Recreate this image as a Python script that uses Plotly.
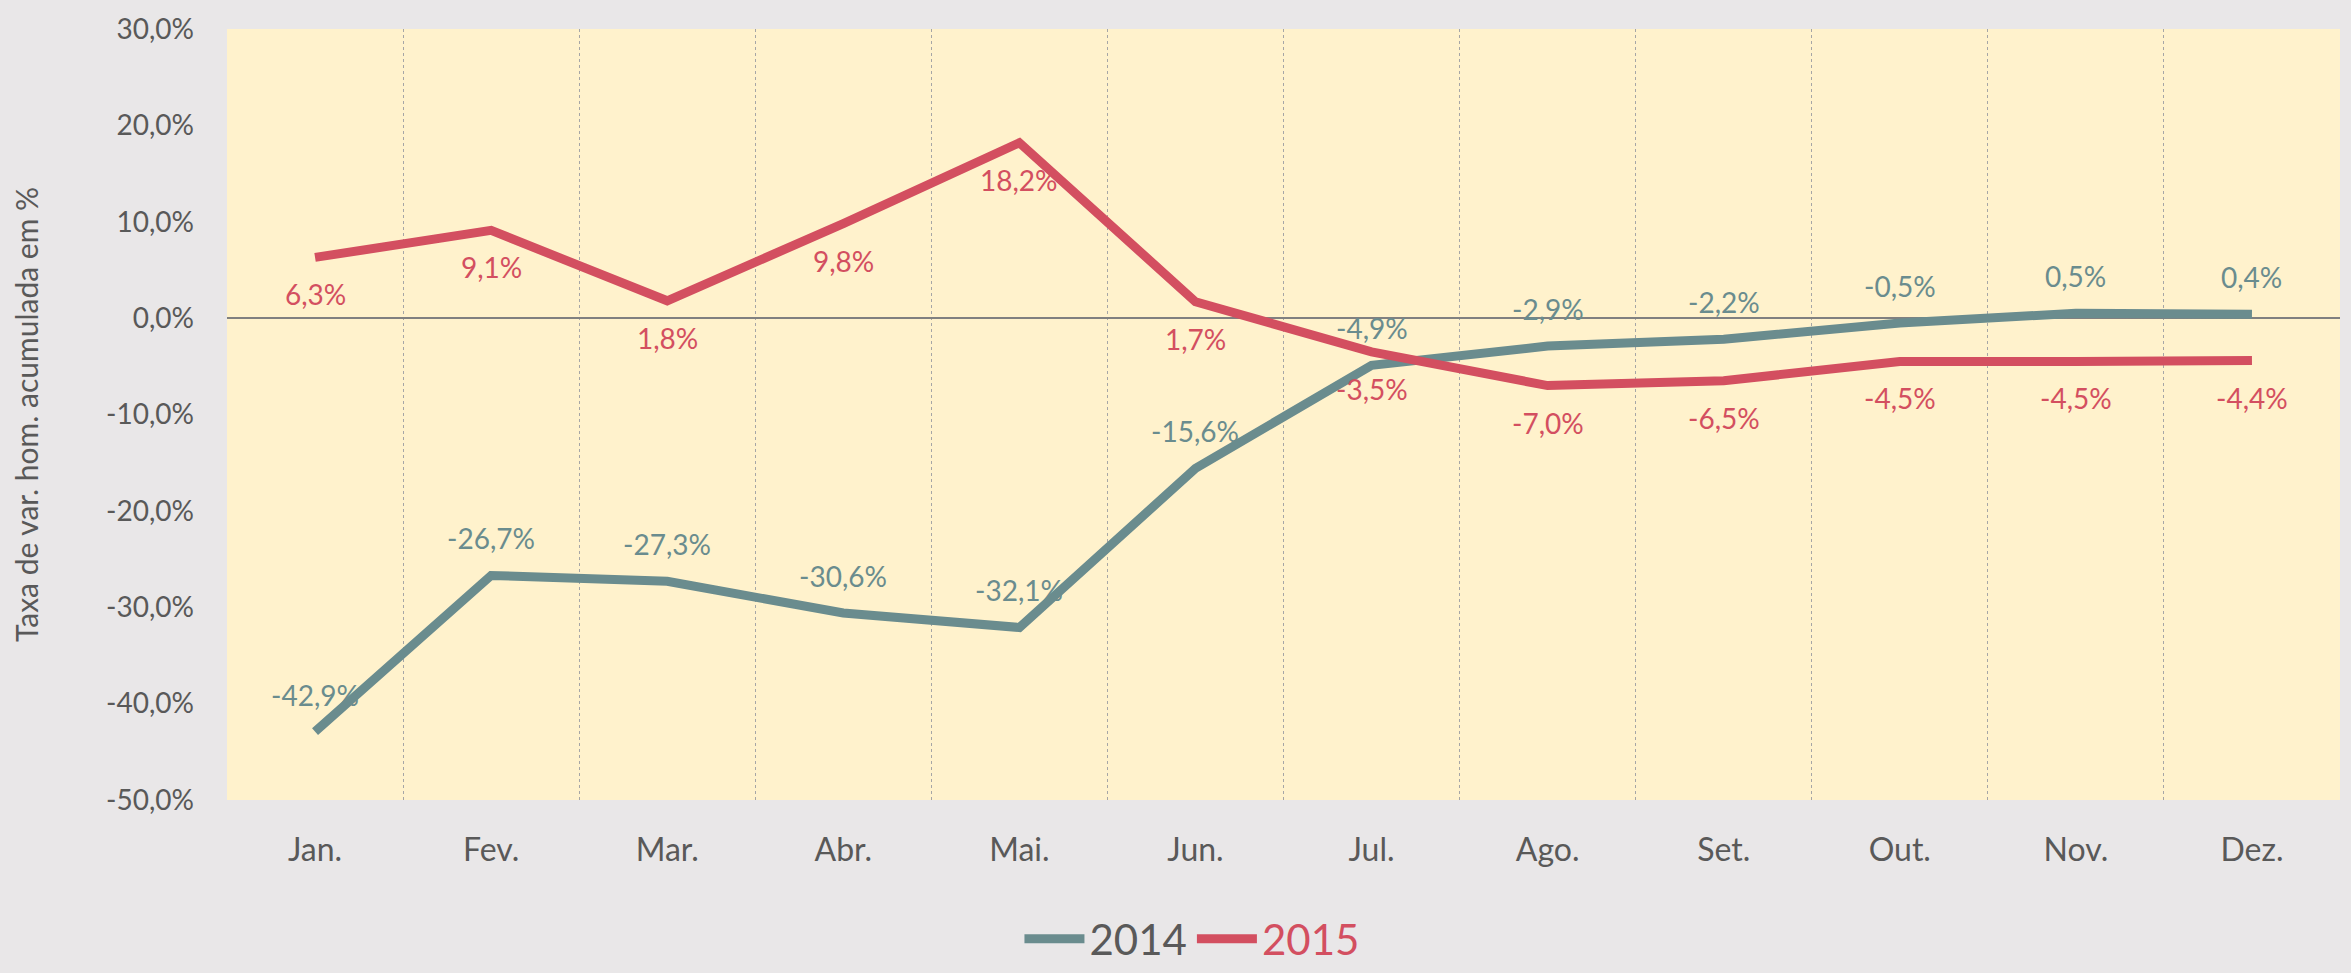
import plotly.graph_objects as go

# dados (taxa de variação homóloga acumulada, %)
meses = ["Jan.", "Fev.", "Mar.", "Abr.", "Mai.", "Jun.", "Jul.", "Ago.", "Set.", "Out.", "Nov.", "Dez."]
v2014 = [-42.9, -26.7, -27.3, -30.6, -32.1, -15.6, -4.9, -2.9, -2.2, -0.5, 0.5, 0.4]
v2015 = [6.3, 9.1, 1.8, 9.8, 18.2, 1.7, -3.5, -7.0, -6.5, -4.5, -4.5, -4.4]
yticks = [30, 20, 10, 0, -10, -20, -30, -40, -50]

cor14 = "#6A8C8E"
cor15 = "#D34F60"
fonte = "Lato, Open Sans, sans-serif"


def pct(v):
    # formato português com hífen normal
    return ("%.1f%%" % v).replace(".", ",")


fig = go.Figure()
fig.add_trace(go.Scatter(x=meses, y=v2014, mode="lines", name="2014",
                         line=dict(color=cor14, width=9)))
fig.add_trace(go.Scatter(x=meses, y=v2015, mode="lines",
                         name="<span style='color:%s'>2015</span>" % cor15,
                         line=dict(color=cor15, width=9)))

# rótulos de dados: 2014 acima, 2015 abaixo
anns = []
for m, a, b in zip(meses, v2014, v2015):
    anns.append(dict(x=m, y=a, text=pct(a), showarrow=False,
                     yshift=37, font=dict(color=cor14, size=28, family=fonte)))
    anns.append(dict(x=m, y=b, text=pct(b), showarrow=False,
                     yshift=-37, font=dict(color=cor15, size=28, family=fonte)))

fig.update_layout(
    width=2351, height=973,
    margin=dict(l=227, r=11, t=19, b=173),
    paper_bgcolor="#E9E7E8",
    plot_bgcolor="#FFF2CC",
    font=dict(family=fonte, color="#595959", size=27),
    annotations=anns,
    showlegend=True,
    legend=dict(orientation="h", xref="container", x=0.507, xanchor="center",
                yref="container", y=-0.022, yanchor="bottom",
                font=dict(size=42, color="#595959"), itemwidth=60,
                bgcolor="rgba(0,0,0,0)"),
)
fig.update_xaxes(type="category", range=[-0.5, 11.5], tickson="boundaries", showgrid=True,
                 gridcolor="#A6A6A6", griddash="dot", gridwidth=1,
                 ticks="", ticklabelstandoff=28, tickfont=dict(size=32),
                 showline=False, zeroline=False)
fig.update_yaxes(range=[-50, 30], tickvals=yticks, ticktext=[pct(v) for v in yticks],
                 showgrid=False, zeroline=True, zerolinecolor="#808080", zerolinewidth=2,
                 ticks="", ticklabelstandoff=32, tickfont=dict(size=28),
                 title=dict(text="Taxa de var. hom. acumulada em %", font=dict(size=30),
                            standoff=58))

fig.write_html("out.html", config={"displayModeBar": False},
               post_script="document.body.style.margin='0';")
